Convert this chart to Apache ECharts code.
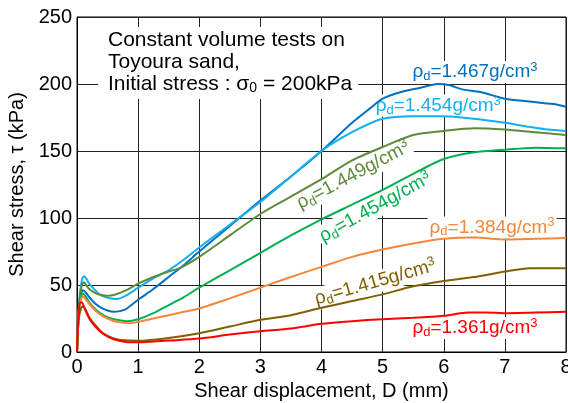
<!DOCTYPE html>
<html><head><meta charset="utf-8">
<script src="https://cdn.jsdelivr.net/npm/echarts@6/dist/echarts.min.js"></script>
<style>html,body{margin:0;padding:0;background:#fff}#c{width:568px;height:403px}</style>
</head><body><div id="c"></div>
<script>
// ---- data ----
const xTicks = [0,1,2,3,4,5,6,7,8];
const yTicks = [0,50,100,150,200,250];
const densities = ['1.467','1.454','1.449','1.454','1.384','1.415','1.361'];

const D_1467 = [0,0.03,0.07,0.1,0.15,0.2,0.3,0.4,0.5,0.6,0.7,0.8,1,1.25,1.5,1.75,2,2.5,3,3.5,4,4.5,4.8,5,5.3,5.6,5.9,6.1,6.3,6.6,7,7.4,7.8,8];
const T_1467 = [0,35,44,46,44,41,36,33,31,30,30.5,32,39,47,56,65,75,94,113,131,150,171,182,189,194,197,200,199,196,194,189,187,185,183];

const D_1454a = [0,0.04,0.08,0.11,0.15,0.2,0.3,0.4,0.5,0.65,0.8,1,1.25,1.5,1.75,2,2.5,3,3.5,4,4.5,5,5.5,6,6.5,7,7.4,7.7,8];
const T_1454a = [0,40,54,56.5,55,51,46,42,40.5,39.5,42,48,55,61,69,78,95,112,131,150,164,174,176,176,174,171,168,166,165];

const D_1449 = [0,0.04,0.08,0.11,0.15,0.2,0.3,0.4,0.5,0.6,0.8,1,1.25,1.5,1.7,2,2.5,3,3.5,4,4.5,5,5.5,6,6.5,7,7.5,8];
const T_1449 = [0,38,50,52,50,47,44,42.5,42,42.5,46,51,56,60,63,71,87,103,116,129,143,153,162,165,167,166,164,162];

const D_1454b = [0,0.03,0.07,0.1,0.15,0.2,0.3,0.4,0.5,0.65,0.82,1,1.25,1.5,1.75,2,2.5,3,3.5,4,4.5,5,5.5,6,6.5,7,7.5,8];
const T_1454b = [0,30,42,43.5,41,37,32,28.5,26,24,23,24.5,29,35,41,48,61,74,87,99,110,121,133,144,149,151,152.5,152];

const D_1384 = [0,0.03,0.07,0.1,0.15,0.2,0.3,0.4,0.5,0.65,0.87,1,1.25,1.5,1.75,2,2.5,3,3.5,4,4.5,5,5.5,6,6.5,7,7.5,8];
const T_1384 = [0,30,40,41.5,39,36,31,27.5,25,22.5,21.5,22.5,25,27.5,30,32.5,40,48,56,63.5,71,76.5,81,84.5,85.5,84,84.5,85];

const D_1415 = [0,0.03,0.07,0.1,0.15,0.2,0.3,0.4,0.5,0.65,0.85,1,1.5,2,2.5,3,3.5,4,4.5,5,5.5,6,6.5,7,7.4,8];
const T_1415 = [0,25,33,34,31,26,20,15,12,9.5,8.5,8.4,10.5,14,19,24,27.5,33,38,43,49,53,56,60,62.5,62.5];

const D_1361 = [0,0.02,0.05,0.08,0.12,0.2,0.3,0.43,0.6,0.8,1,1.25,1.5,2,2.5,3,3.5,4,4.5,5,5.5,6,6.4,6.7,7,7.5,8];
const T_1361 = [0,25,37,37,33,25,19,13.5,9.5,7.5,7.2,7.8,8.5,10,13,15.5,17.5,21,23,24.5,25.5,27,29.5,29.5,29,29.5,30];

// ---- styling / layout ----
const FONT = "'Liberation Sans', Arial, sans-serif";
const colors = ['#0070C0','#12B0EE','#5E8B3A','#00B050','#F5873C','#7F6000','#FF0000'];
const curves = [[D_1467,T_1467],[D_1454a,T_1454a],[D_1449,T_1449],[D_1454b,T_1454b],[D_1384,T_1384],[D_1415,T_1415],[D_1361,T_1361]];
const zip = (a,b) => a.map((v,i)=>[v,b[i]]);

const series = curves.map((c,i)=>({
  type:'line', name: densities[i], data: zip(c[0],c[1]), showSymbol:false, symbol:'none',
  smooth:0.25,
  lineStyle:{color:colors[i], width:2}, itemStyle:{color:colors[i]}, z: 3, animation:false
}));

const option = {
  animation:false,
  backgroundColor:'#fff',
  textStyle:{fontFamily:FONT},
  grid:{left:77, right:2, top:17, bottom:51, containLabel:false, outerBoundsMode:'none',
    show:true, borderColor:'#000', borderWidth:1, backgroundColor:'transparent'},
  xAxis:{type:'value', min:xTicks[0], max:xTicks[xTicks.length-1], interval:1,
    name:'Shear displacement, D (mm)', nameLocation:'middle', nameGap:22,
    nameTextStyle:{fontSize:20, color:'#000', fontFamily:FONT},
    axisLine:{lineStyle:{color:'#000', width:1}}, axisTick:{show:false},
    axisLabel:{fontSize:20, color:'#000', margin:5, fontFamily:FONT},
    splitLine:{show:true, lineStyle:{color:'#222', width:1}}},
  yAxis:{type:'value', min:yTicks[0], max:yTicks[yTicks.length-1], interval:50,
    name:'Shear stress, \u03c4 (kPa)', nameLocation:'middle', nameGap:46,
    nameTextStyle:{fontSize:20, color:'#000', fontFamily:FONT},
    axisLine:{lineStyle:{color:'#000', width:1}}, axisTick:{show:false},
    axisLabel:{fontSize:20, color:'#000', margin:5, fontFamily:FONT},
    splitLine:{show:true, lineStyle:{color:'#222', width:1}}},
  series: series
};

const chart = echarts.init(document.getElementById('c'), null, {renderer:'canvas'});
chart.setOption(option);

// labels anchored in data coordinates: [D, tau], rotation degrees
const labelDefs = [
  {i:0, at:[6.51,209], rot:0},
  {i:1, at:[5.91,184], rot:0},
  {i:2, at:[4.52,132], rot:28},
  {i:3, at:[4.88,108], rot:29},
  {i:4, at:[6.79,93], rot:0},
  {i:5, at:[4.88,52], rot:16},
  {i:6, at:[6.51,18], rot:0}
];
function richFor(col){
  return {
    r:{fontSize:19, lineHeight:22, fill:col, fontFamily:FONT},
    s:{fontSize:13, lineHeight:11, verticalAlign:'bottom', fill:col, fontFamily:FONT},
    p:{fontSize:13, lineHeight:11, verticalAlign:'top', fill:col, fontFamily:FONT}
  };
}
const graphics = labelDefs.map(l=>{
  const p = chart.convertToPixel({gridIndex:0}, l.at);
  const col = colors[l.i];
  return {type:'text', x:p[0], y:p[1], rotation:l.rot*Math.PI/180, z:1, silent:true,
    style:{text:'{r|\u03c1}{s|d}{r|=' + densities[l.i] + 'g/cm}{p|3}', align:'center', verticalAlign:'middle',
      fill:col, backgroundColor:'#fff', padding:[0,2,0,2], rich:richFor(col)}};
});
graphics.push({type:'text', x:98, y:27, z:1, silent:true,
  style:{text:'{r|Constant volume tests on}\n{r|Toyoura sand,}\n{r|Initial stress : \u03c3}{s|0}{r| = 200kPa}',
    align:'left', verticalAlign:'top', fill:'#000', backgroundColor:'#fff', padding:[2,6,4,10],
    rich:{r:{fontSize:21, lineHeight:22, fill:'#000', fontFamily:FONT},
          s:{fontSize:14, lineHeight:12, verticalAlign:'bottom', fill:'#000', fontFamily:FONT}}}});
chart.setOption({graphic:graphics});
</script></body></html>
